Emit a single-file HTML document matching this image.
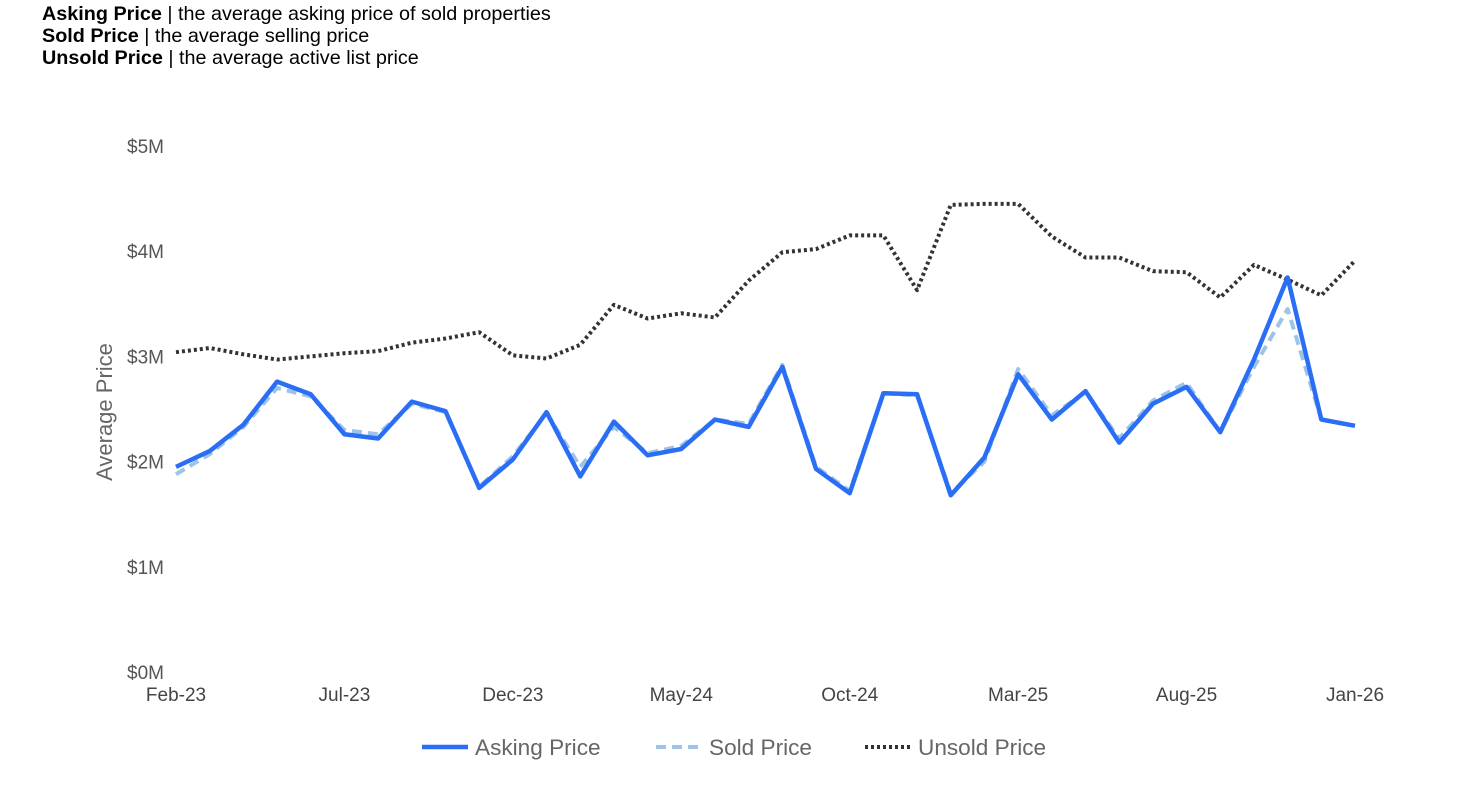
<!DOCTYPE html>
<html><head><meta charset="utf-8">
<style>
body{margin:0;background:#fff;width:1471px;height:798px;overflow:hidden;font-family:"Liberation Sans",Arial,sans-serif;}
.notes{position:absolute;left:42px;top:3px;font-size:19.8px;line-height:22px;color:#000;}
.notes b{font-weight:bold;}
svg{position:absolute;left:0;top:0;}
</style></head>
<body>
<div class="notes">
<div><b>Asking Price</b> | the average asking price of sold properties</div>
<div><b>Sold Price</b> | the average selling price</div>
<div><b>Unsold Price</b> | the average active list price</div>
</div>
<svg id="chart" width="1471" height="798"></svg>
<script>
const months=["Feb-23","Mar-23","Apr-23","May-23","Jun-23","Jul-23","Aug-23","Sep-23","Oct-23","Nov-23","Dec-23","Jan-24","Feb-24","Mar-24","Apr-24","May-24","Jun-24","Jul-24","Aug-24","Sep-24","Oct-24","Nov-24","Dec-24","Jan-25","Feb-25","Mar-25","Apr-25","May-25","Jun-25","Jul-25","Aug-25","Sep-25","Oct-25","Nov-25","Dec-25","Jan-26"];
const asking=[1.95,2.10,2.35,2.76,2.64,2.26,2.22,2.57,2.48,1.75,2.02,2.47,1.86,2.38,2.06,2.12,2.40,2.33,2.90,1.93,1.70,2.65,2.64,1.68,2.04,2.83,2.40,2.67,2.18,2.55,2.71,2.28,2.97,3.75,2.40,2.34];
const sold=[1.88,2.07,2.33,2.70,2.62,2.30,2.26,2.55,2.47,1.76,2.05,2.46,1.95,2.33,2.08,2.15,2.40,2.36,2.92,1.95,1.72,2.65,2.63,1.70,2.00,2.88,2.44,2.66,2.22,2.58,2.75,2.28,2.90,3.45,2.40,2.34];
const unsold=[3.04,3.08,3.02,2.97,3.00,3.03,3.05,3.13,3.17,3.23,3.01,2.98,3.11,3.49,3.36,3.41,3.37,3.72,3.99,4.02,4.15,4.15,3.63,4.44,4.45,4.45,4.14,3.94,3.94,3.81,3.80,3.56,3.87,3.73,3.58,3.91];
const yTicks=[0,1,2,3,4,5];
const xLabelIdx=[0,5,10,15,20,25,30,35];

const NS="http://www.w3.org/2000/svg";
const svg=document.getElementById('chart');
const x0=176,x1=1355,yBase=672,pxPerM=105.2;
const xs=i=>x0+(x1-x0)*i/(months.length-1);
const ys=v=>yBase-v*pxPerM;
function mk(tag,attrs,parent){const e=document.createElementNS(NS,tag);for(const k in attrs)e.setAttribute(k,attrs[k]);(parent||svg).appendChild(e);return e;}

yTicks.forEach(v=>{
  const t=mk('text',{x:164,y:ys(v)+7,'text-anchor':'end','font-size':19,fill:'#555','font-family':'Liberation Sans, sans-serif'});
  
  
  t.textContent='$'+v+'M';
});
xLabelIdx.forEach(i=>{
  const t=mk('text',{x:xs(i),y:701,'text-anchor':'middle','font-size':19,fill:'#444','font-family':'Liberation Sans, sans-serif'});
  
  
  t.textContent=months[i];
});
const yt=mk('text',{x:0,y:0,transform:'translate(112,412) rotate(-90)','text-anchor':'middle','font-size':22,fill:'#666','font-family':'Liberation Sans, sans-serif'});


yt.textContent='Average Price';

function line(data,style,name){
  const p=mk('polyline',Object.assign({points:data.map((v,i)=>xs(i)+','+ys(v)).join(' '),fill:'none','stroke-linejoin':'round'},style));
  
  
}
line(unsold,{stroke:'#333','stroke-width':4,'stroke-dasharray':'3 3'},'unsold-price-line');
line(sold,{stroke:'#9dc3e6','stroke-width':4,'stroke-dasharray':'10 6'},'sold-price-line');
line(asking,{stroke:'#2a6ef5','stroke-width':4.5},'asking-price-line');

const legend=[
  {label:'Asking Price',x:422,style:{stroke:'#2a6ef5','stroke-width':4.5},name:'legend-asking-price'},
  {label:'Sold Price',x:656,style:{stroke:'#9dc3e6','stroke-width':4,'stroke-dasharray':'10 6'},name:'legend-sold-price'},
  {label:'Unsold Price',x:865,style:{stroke:'#333','stroke-width':4,'stroke-dasharray':'3 3'},name:'legend-unsold-price'}
];
legend.forEach(l=>{
  const g=mk('g',{});
  
  
  mk('line',Object.assign({x1:l.x,y1:747,x2:l.x+46,y2:747},l.style),g);
  const t=mk('text',{x:l.x+53,y:755,'font-size':22.6,fill:'#666','font-family':'Liberation Sans, sans-serif'},g);
  t.textContent=l.label;
});
</script>
</body></html>
